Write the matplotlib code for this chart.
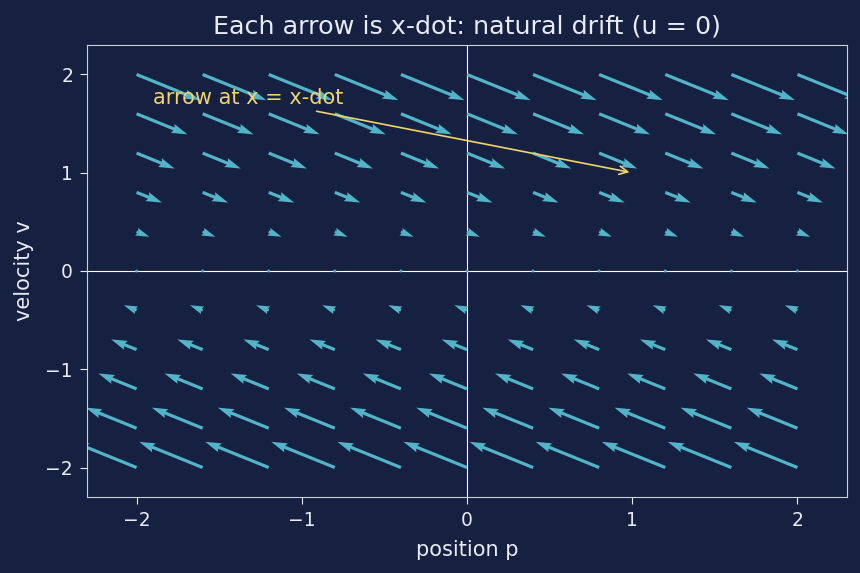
import numpy as np
import matplotlib
matplotlib.use("Agg")
import matplotlib.pyplot as plt

# grid of states (position p, velocity v)
p_levels = [-2.0, -1.6, -1.2, -0.8, -0.4, 0.0, 0.4, 0.8, 1.2, 1.6, 2.0]
v_levels = [-2.0, -1.6, -1.2, -0.8, -0.4, 0.0, 0.4, 0.8, 1.2, 1.6, 2.0]

# x-dot components read per velocity row (no dependence on p)
pdot_by_row = [-2.0, -1.6, -1.2, -0.8, -0.4, 0.0, 0.4, 0.8, 1.2, 1.6, 2.0]
vdot_by_row = [1.36, 1.09, 0.82, 0.54, 0.27, 0.0, -0.27, -0.54, -0.82, -1.09, -1.36]

xticks = [-2, -1, 0, 1, 2]
yticks = [-2, -1, 0, 1, 2]

bg = "#162040"
fg = "#e8ecf4"
arrow_col = "#52b4c9"
gold = "#f0d36a"

fig = plt.figure(figsize=(8.6, 5.73), dpi=100, facecolor=bg)
ax = fig.add_subplot(111)
ax.set_facecolor(bg)
fig.subplots_adjust(left=87/860, right=847/860, top=1-45/573, bottom=1-497/573)

P, V = np.meshgrid(p_levels, v_levels)
U = np.tile(np.array(pdot_by_row)[:, None], (1, len(p_levels)))
W = np.tile(np.array(vdot_by_row)[:, None], (1, len(p_levels)))

ax.axhline(0, color="white", lw=0.8, zorder=1)
ax.axvline(0, color="white", lw=0.8, zorder=1)

ax.quiver(P, V, U, W, color=arrow_col, angles="xy", scale_units="xy",
          scale=5.2, width=0.0042, zorder=2)

ax.annotate("arrow at x = x-dot", xy=(1.0, 1.0), xytext=(-1.9, 1.7),
            color=gold, fontsize=15,
            arrowprops=dict(arrowstyle="->", color=gold, lw=1.2))

ax.set_xlim(-2.3, 2.3)
ax.set_ylim(-2.3, 2.3)
ax.set_xticks(xticks)
ax.set_yticks(yticks)
ax.tick_params(colors=fg, labelsize=13.5, length=5, pad=5)
for s in ax.spines.values():
    s.set_color("#c8d0dc")

ax.set_xlabel("position p", color=fg, fontsize=15, labelpad=7)
ax.set_ylabel("velocity v", color=fg, fontsize=15, labelpad=8)
ax.set_title("Each arrow is x-dot: natural drift (u = 0)", color=fg,
             fontsize=18.3, pad=8)

fig.savefig("out.png", dpi=100, facecolor=bg)
